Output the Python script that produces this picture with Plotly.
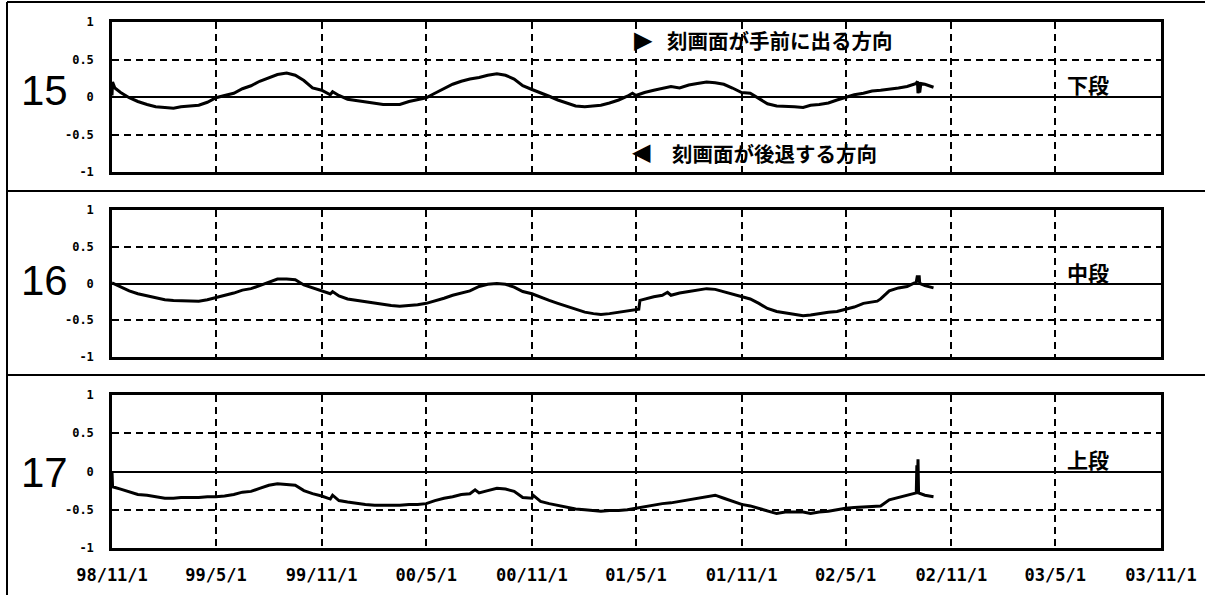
import plotly.graph_objects as go

# ---------------- data ----------------
DATES = [
    "1998-11-01", "1998-11-16", "1998-12-01", "1998-12-16",
    "1999-01-01", "1999-01-16", "1999-02-01", "1999-02-16", "1999-03-01", "1999-03-16",
    "1999-04-01", "1999-04-16", "1999-05-01", "1999-05-16", "1999-06-01", "1999-06-16",
    "1999-07-01", "1999-07-16", "1999-08-01", "1999-08-16", "1999-09-01", "1999-09-16",
    "1999-10-01", "1999-10-16", "1999-11-01", "1999-11-16", "1999-12-01", "1999-12-16",
    "2000-01-01", "2000-01-16", "2000-02-01", "2000-02-16", "2000-03-01", "2000-03-16",
    "2000-04-01", "2000-04-16", "2000-05-01", "2000-05-16", "2000-06-01", "2000-06-16",
    "2000-07-01", "2000-07-16", "2000-08-01", "2000-08-16", "2000-09-01", "2000-09-16",
    "2000-10-01", "2000-10-16", "2000-11-01", "2000-11-16", "2000-12-01", "2000-12-16",
    "2001-01-01", "2001-01-16", "2001-02-01", "2001-02-16", "2001-03-01", "2001-03-16",
    "2001-04-01", "2001-04-16", "2001-05-01", "2001-05-16", "2001-06-01", "2001-06-16",
    "2001-07-01", "2001-07-16", "2001-08-01", "2001-08-16", "2001-09-01", "2001-09-16",
    "2001-10-01", "2001-10-16", "2001-11-01", "2001-11-16", "2001-12-01", "2001-12-16",
    "2002-01-01", "2002-01-16", "2002-02-01", "2002-02-16", "2002-03-01", "2002-03-16",
    "2002-04-01", "2002-04-16", "2002-05-01", "2002-05-16", "2002-06-01", "2002-06-16",
    "2002-07-01", "2002-07-16", "2002-08-01", "2002-08-16", "2002-09-01", "2002-09-16",
    "2002-10-01",
]

# 15 下段
LOWER = [
    0.02, 0.06, -0.01, -0.06,
    -0.10, -0.13, -0.14, -0.15, -0.13, -0.12, -0.11, -0.07, -0.01, 0.02, 0.05, 0.11,
    0.15, 0.21, 0.26, 0.30, 0.32, 0.29, 0.22, 0.12, 0.09, 0.03, 0.02, -0.03,
    -0.05, -0.07, -0.08, -0.10, -0.10, -0.10, -0.06, -0.03, -0.01, 0.05, 0.11, 0.17,
    0.21, 0.24, 0.26, 0.29, 0.31, 0.29, 0.24, 0.15, 0.10, 0.06, 0.01, -0.04,
    -0.08, -0.12, -0.13, -0.12, -0.11, -0.08, -0.04, 0.01, 0.02, 0.06, 0.09, 0.12,
    0.14, 0.12, 0.16, 0.18, 0.20, 0.19, 0.17, 0.12, 0.06, 0.05, -0.02, -0.09,
    -0.12, -0.12, -0.13, -0.14, -0.11, -0.10, -0.08, -0.04, -0.01, 0.03, 0.05, 0.08,
    0.09, 0.10, 0.12, 0.14, 0.18, 0.17, 0.13,
]
LOWER_EXTRA_DATES = ["1998-11-02", "1998-11-06", "1999-11-20", "2001-04-25",
                     "2002-09-03", "2002-09-04", "2002-09-06", "2002-09-07", "2002-09-09"]
LOWER_EXTRA = [0.20, 0.12, 0.07, 0.05, 0.21, 0.05, 0.20, 0.06, 0.18]

# 16 中段
MIDDLE = [
    0.01, -0.05, -0.10, -0.14,
    -0.17, -0.20, -0.22, -0.23, -0.23, -0.24, -0.24, -0.22, -0.19, -0.17, -0.13, -0.09,
    -0.07, -0.03, 0.02, 0.06, 0.06, 0.05, -0.02, -0.06, -0.10, -0.14, -0.17, -0.21,
    -0.23, -0.25, -0.26, -0.28, -0.30, -0.31, -0.30, -0.29, -0.27, -0.24, -0.20, -0.16,
    -0.13, -0.10, -0.04, -0.01, 0.00, -0.01, -0.05, -0.11, -0.14, -0.19, -0.23, -0.27,
    -0.31, -0.35, -0.39, -0.41, -0.42, -0.41, -0.39, -0.37, -0.36, -0.21, -0.18, -0.16,
    -0.16, -0.13, -0.11, -0.09, -0.07, -0.08, -0.11, -0.15, -0.18, -0.21, -0.27, -0.34,
    -0.38, -0.40, -0.42, -0.44, -0.43, -0.41, -0.39, -0.38, -0.35, -0.32, -0.27, -0.25,
    -0.21, -0.10, -0.06, -0.04, 0.02, -0.03, -0.06,
]
MIDDLE_EXTRA_DATES = ["1999-11-20", "2001-05-06", "2001-05-08", "2001-06-25", "2002-06-25",
                      "2002-09-03", "2002-09-04", "2002-09-06", "2002-09-07"]
MIDDLE_EXTRA = [-0.11, -0.35, -0.23, -0.12, -0.24, 0.11, 0.02, 0.11, 0.00]

# 17 上段
UPPER = [
    0.00, -0.23, -0.27, -0.30,
    -0.31, -0.33, -0.35, -0.35, -0.34, -0.34, -0.34, -0.33, -0.33, -0.32, -0.30, -0.27,
    -0.26, -0.22, -0.18, -0.16, -0.17, -0.18, -0.25, -0.29, -0.32, -0.36, -0.38, -0.40,
    -0.42, -0.43, -0.44, -0.44, -0.44, -0.44, -0.43, -0.43, -0.42, -0.38, -0.35, -0.33,
    -0.30, -0.29, -0.28, -0.25, -0.22, -0.23, -0.26, -0.34, -0.35, -0.39, -0.42, -0.44,
    -0.46, -0.49, -0.50, -0.51, -0.52, -0.51, -0.51, -0.50, -0.48, -0.46, -0.44, -0.42,
    -0.41, -0.39, -0.37, -0.35, -0.32, -0.31, -0.35, -0.39, -0.43, -0.45, -0.48, -0.51,
    -0.55, -0.53, -0.53, -0.53, -0.55, -0.53, -0.52, -0.50, -0.48, -0.47, -0.46, -0.46,
    -0.45, -0.37, -0.34, -0.31, -0.28, -0.31, -0.33,
]
UPPER_EXTRA_DATES = ["1998-11-02", "1999-11-20", "2000-07-25", "2000-11-03",
                     "2002-09-02", "2002-09-03", "2002-09-04", "2002-09-05"]
UPPER_EXTRA = [-0.20, -0.31, -0.24, -0.31, 0.08, -0.28, 0.16, -0.28]

PANEL_NUMBERS = ["15", "16", "17"]
PANEL_NAMES = ["下段", "中段", "上段"]
UP_TEXT = "刻画面が手前に出る方向"
DOWN_TEXT = "刻画面が後退する方向"

X_TICKS = ["1998-11-01", "1999-05-01", "1999-11-01", "2000-05-01", "2000-11-01", "2001-05-01",
           "2001-11-01", "2002-05-01", "2002-11-01", "2003-05-01", "2003-11-01"]
X_TICK_LABELS = ["98/11/1", "99/5/1", "99/11/1", "00/5/1", "00/11/1", "01/5/1",
                 "01/11/1", "02/5/1", "02/11/1", "03/5/1", "03/11/1"]
Y_TICKS = [-1, -0.5, 0, 0.5, 1]
Y_TICK_LABELS = ["-1", "-0.5", "0", "0.5", "1"]

# ---------------- figure ----------------
W, H = 1205, 595


def px(x):
    return x / W


def py(y):
    return 1 - y / H


panels = [
    (LOWER, LOWER_EXTRA_DATES, LOWER_EXTRA, (22, 172), 90, 84),
    (MIDDLE, MIDDLE_EXTRA_DATES, MIDDLE_EXTRA, (210, 357), 280, 272),
    (UPPER, UPPER_EXTRA_DATES, UPPER_EXTRA, (395, 548), 473, 459),
]

fig = go.Figure()
layout = dict(
    width=W, height=H, autosize=False,
    margin=dict(l=0, r=0, t=0, b=0, pad=0),
    paper_bgcolor="white", plot_bgcolor="white",
    showlegend=False,
    annotations=[], shapes=[],
)

mono = dict(family="DejaVu Sans Mono", color="black", weight="bold")
cjk = dict(family="Noto Sans CJK JP", color="black", weight="bold")

for i, (vals, ed, ev, (top, bot), numy, namey) in enumerate(panels):
    pts = sorted(zip(DATES + ed, vals + ev))
    xa = "x" if i == 0 else f"x{i + 1}"
    ya = "y" if i == 0 else f"y{i + 1}"
    fig.add_trace(go.Scatter(
        x=[p[0] for p in pts], y=[p[1] for p in pts], mode="lines",
        line=dict(color="black", width=3), xaxis=xa, yaxis=ya, hoverinfo="skip",
    ))
    xkey = "xaxis" if i == 0 else f"xaxis{i + 1}"
    ykey = "yaxis" if i == 0 else f"yaxis{i + 1}"
    layout[xkey] = dict(
        domain=[px(112), px(1161)], anchor=ya, type="date", automargin=False,
        range=["1998-11-01", "2003-11-01"],
        tickmode="array", tickvals=X_TICKS, ticktext=X_TICK_LABELS,
        showticklabels=(i == 2), ticks="", ticklabelstandoff=10,
        tickfont=dict(size=17, **mono),
        showgrid=True, gridcolor="black", gridwidth=1.5, griddash="7px,5px",
        showline=True, mirror=True, linecolor="black", linewidth=2.5,
        zeroline=False, fixedrange=True,
    )
    layout[ykey] = dict(
        domain=[py(bot), py(top)], anchor=xa, range=[-1, 1], automargin=False,
        tickmode="array", tickvals=Y_TICKS, ticktext=Y_TICK_LABELS,
        ticks="", ticklabelstandoff=13,
        tickfont=dict(size=12, **mono),
        showgrid=True, gridcolor="black", gridwidth=1.5, griddash="7px,5px",
        zeroline=True, zerolinecolor="black", zerolinewidth=1.5,
        showline=True, mirror=True, linecolor="black", linewidth=2.5,
        fixedrange=True,
    )
    layout["annotations"].append(dict(
        text=PANEL_NUMBERS[i], x=px(44), y=py(numy), xref="paper", yref="paper",
        xanchor="center", yanchor="middle", showarrow=False,
        font=dict(family="Liberation Sans", size=42, color="black"),
    ))
    layout["annotations"].append(dict(
        text=PANEL_NAMES[i], x=px(1088), y=py(namey), xref="paper", yref="paper",
        xanchor="center", yanchor="middle", showarrow=False,
        font=dict(size=21, **cjk),
    ))

layout["annotations"] += [
    dict(text="▶", x=px(643), y=py(40), xref="paper", yref="paper", showarrow=False,
         xanchor="center", yanchor="middle",
         font=dict(family="DejaVu Sans", size=24, color="black")),
    dict(text=UP_TEXT, x=px(665), y=py(40), xref="paper", yref="paper", showarrow=False,
         xanchor="left", yanchor="middle", font=dict(size=20.5, **cjk)),
    dict(text="◀", x=px(641), y=py(152), xref="paper", yref="paper", showarrow=False,
         xanchor="center", yanchor="middle",
         font=dict(family="DejaVu Sans", size=24, color="black")),
    dict(text=DOWN_TEXT, x=px(670), y=py(153), xref="paper", yref="paper", showarrow=False,
         xanchor="left", yanchor="middle", font=dict(size=20.5, **cjk)),
]

frame = dict(type="line", xref="paper", yref="paper", line=dict(color="black", width=2))
for yy in (2, 191, 375):
    layout["shapes"].append(dict(frame, x0=px(7), x1=1, y0=py(yy), y1=py(yy)))
layout["shapes"].append(dict(frame, x0=px(7), x1=px(7), y0=py(2), y1=0))

fig.update_layout(**layout)
fig.write_html(
    "out.html",
    config={"displayModeBar": False},
    post_script="document.body.style.margin='0';document.body.style.padding='0';"
                "document.documentElement.style.overflow='hidden';",
)
